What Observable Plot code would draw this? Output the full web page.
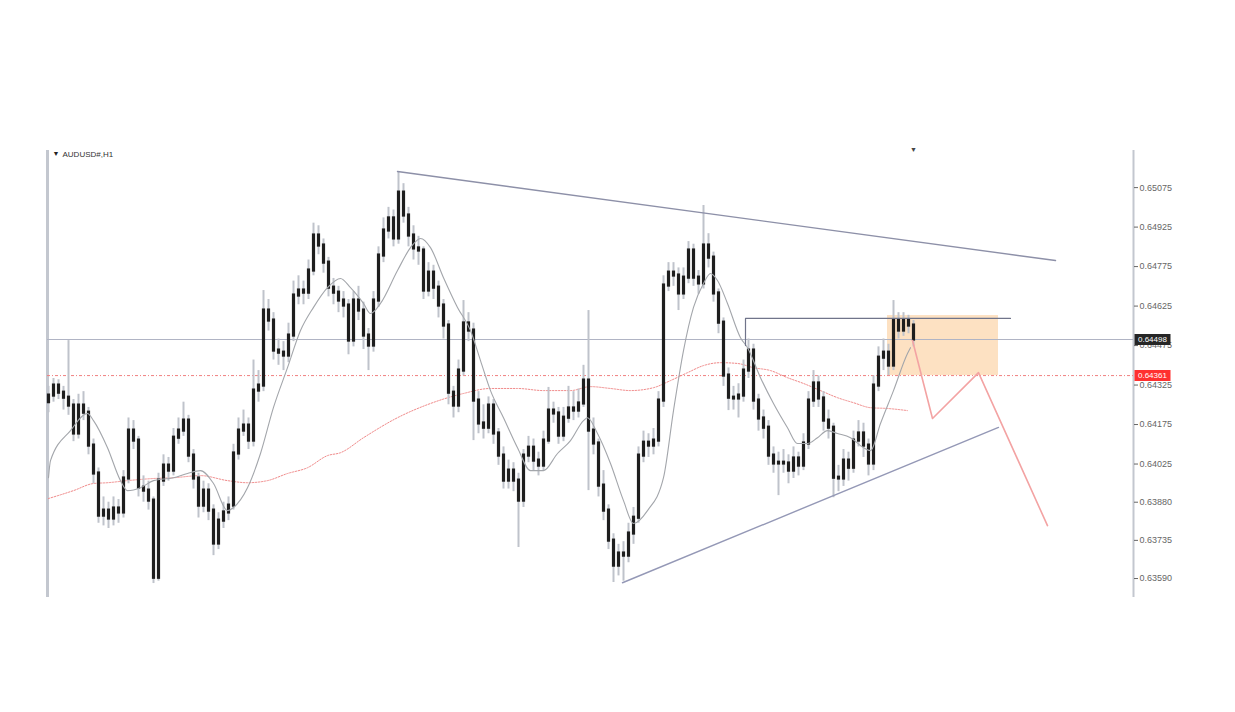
<!DOCTYPE html>
<html>
<head>
<meta charset="utf-8">
<script src="https://cdn.jsdelivr.net/npm/d3@7"></script>
<script src="https://cdn.jsdelivr.net/npm/@observablehq/plot@0.6"></script>
<style>
  html, body { margin: 0; padding: 0; background: #fff; }
  #edge { position: absolute; left: 0; top: 0; width: 1px; height: 712px; background: #333; }
  #chart { position: absolute; left: 0; top: 0; }
</style>
</head>
<body>
<div id="edge"></div>
<div id="chart"></div>
<script>
// ---- Data (prices in points: 1 point = 0.00001) ----
const symbolTitle = "AUDUSD#,H1";
const firstOpen = 64260;
const closes = [64285,64323,64296,64277,64247,64141,64247,64220,64095,63989,
63829,63848,63818,63856,63841,63970,64152,64114,63935,63924,
63886,63593,63962,64019,64000,64125,64152,64190,64057,63970,
63867,63924,63848,63723,63810,63841,63867,64065,64152,64171,
64114,64304,64323,64608,64570,64456,64448,64437,64513,64665,
64684,64676,64760,64893,64855,64790,64695,64676,64646,64627,
64494,64646,64608,64513,64475,64646,64817,64912,64958,64882,
65056,64969,64893,64844,64836,64684,64752,64695,64627,64551,
64296,64247,64380,64559,64532,64266,64179,64163,64247,64141,
64057,63962,64000,63962,63886,64057,64087,64038,64019,64114,
64228,64217,64133,64201,64236,64228,64255,64342,64152,64103,
63943,63848,63734,63639,63685,63677,63761,63821,64057,64106,
64095,64114,64266,64703,64752,64741,64673,64733,64836,64733,
64711,64855,64809,64673,64562,64361,64277,64274,64285,64380,
64456,64266,64198,64163,64057,64027,64030,64027,64000,64046,
64019,64103,64266,64331,64274,64190,64163,63973,63970,64038,
64011,64114,64141,64095,64027,64323,64429,64448,64399,64570,
64532,64570,64551,64498];
const highs = [64320,64350,64345,64320,64494,64270,64290,64300,64240,64120,
64010,63900,63880,63900,63890,64000,64200,64190,64130,63980,
63960,63900,63990,64060,64050,64160,64200,64260,64210,64080,
63990,63960,63950,63870,63840,63880,63900,64100,64200,64230,
64200,64420,64380,64684,64650,64600,64500,64490,64560,64720,
64740,64720,64800,64940,64930,64880,64810,64730,64700,64680,
64650,64680,64700,64640,64540,64680,64850,64960,65000,64990,
65136,65090,65000,64930,64890,64850,64790,64780,64720,64650,
64570,64320,64420,64646,64600,64560,64300,64250,64280,64270,
64160,64090,64040,64030,63990,64080,64130,64120,64070,64150,
64316,64260,64240,64240,64320,64300,64310,64400,64608,64200,
64120,64000,63870,63760,63720,63730,63800,63860,64090,64150,
64140,64160,64300,64740,64790,64790,64770,64770,64870,64860,
64760,65007,64900,64830,64690,64580,64390,64320,64330,64420,
64500,64480,64290,64230,64190,64090,64070,64080,64060,64090,
64070,64140,64300,64380,64360,64300,64230,64180,64020,64080,
64070,64150,64190,64180,64120,64360,64470,64500,64480,64646,
64600,64600,64590,64570];
const lows = [64220,64260,64270,64230,64210,64110,64120,64190,64060,63950,
63800,63790,63780,63790,63800,63820,63950,64080,63900,63880,
63850,63571,63580,63940,63960,63980,64100,64130,64030,63930,
63820,63840,63810,63677,63700,63780,63810,63850,64040,64130,
64080,64090,64260,64300,64530,64420,64400,64380,64410,64490,
64630,64630,64650,64740,64820,64750,64660,64630,64600,64580,
64440,64470,64570,64460,64380,64450,64620,64790,64880,64850,
64860,64940,64850,64800,64780,64650,64660,64650,64580,64500,
64250,64200,64220,64360,64490,64114,64140,64120,64140,64100,
64020,63930,63930,63920,63708,63860,64030,64000,63980,64000,
64100,64180,64100,64110,64180,64190,64200,64240,63924,64060,
63900,63810,63700,63575,63600,63580,63650,63720,63800,64030,
64050,64060,64090,64240,64680,64700,64608,64650,64710,64700,
64670,64690,64770,64640,64520,64320,64228,64230,64200,64260,
64350,64230,64150,64120,64020,63990,63905,63990,63950,63970,
63980,64000,64080,64240,64240,64150,64120,63897,63920,63940,
63960,63990,64090,64050,63980,64000,64300,64380,64361,64380,
64500,64510,64520,64470];

// fast moving average (bar index, price)
const fastMA = [[0,63973],[0.4,64038],[4.4,64152],[7.8,64217],[9,64190],[11.8,64087],[14.4,63962],[15.8,63924],
[18.4,63935],[21,63962],[25,63973],[27.8,63989],[30.4,64000],[33,63951],[35.8,63848],[37,63860],[39.8,63935],
[42.4,64065],[45,64240],[47.8,64391],[50.4,64532],[53,64620],[55.8,64695],[58.4,64730],[60.4,64695],[63,64635],
[64.4,64597],[66.4,64635],[69.8,64760],[72.4,64847],[74.4,64882],[76.4,64847],[79,64733],[81.8,64620],[84.4,64532],
[86.4,64418],[88.4,64304],[91,64201],[93.8,64087],[96.4,64000],[99,64000],[101.8,64065],[104.4,64114],[107,64190],
[107.8,64201],[109.8,64141],[112.4,64027],[115,63886],[117,63799],[119.8,63848],[123,63973],[125,64228],[127,64456],
[129,64620],[131,64711],[132.4,64749],[133.8,64722],[135.8,64635],[138.4,64505],[139.8,64467],[142.4,64353],
[145,64255],[147.8,64163],[149.8,64103],[151.8,64103],[153.8,64125],[155.8,64152],[157.8,64141],[160.4,64125],
[163,64087],[164.4,64076],[166.4,64179],[169,64304],[171.8,64445],[172.4,64467]];
// slow moving average (bar index, price)
const slowMA = [[0,63894],[5,63924],[9,63951],[11.8,63954],[15.8,63962],[21,63970],[25,63973],[30.4,63981],
[35.8,63962],[39.8,63954],[43.8,63962],[47.8,63989],[51.8,64011],[55.8,64057],[58.4,64068],[63,64125],[69.8,64201],
[76.4,64255],[83,64293],[88.4,64312],[93.8,64312],[99,64304],[104.4,64304],[108.4,64319],[112.4,64312],[116.4,64304],
[121,64315],[124.4,64342],[127.8,64372],[131,64399],[134.4,64410],[137.8,64407],[141,64391],[144.4,64380],
[147.8,64353],[151,64331],[154.4,64304],[157.8,64277],[161,64258],[164.4,64239],[167.8,64236],[171.8,64228]];

const currentPrice = 64498;
const alertLevel = 64361;
const tickLabels = [65075, 64925, 64775, 64625, 64475, 64325, 64175, 64025, 63880, 63735, 63590];
const upperTrend = [[69.8, 65136], [201.4, 64798]];
const lowerTrend = [[114.8, 63574], [190, 64164]];
const resistance = [[139.4, 64475], [139.4, 64578], [192.4, 64578]];
const zone = {i1: 167.8, i2: 190, p1: 64361, p2: 64589};
const projection = [[172.8, 64494], [176.8, 64198], [186, 64372], [199.8, 63791]];
const xDomain = [-0.2, 217];
const yDomain = [63518, 65216];

// ---- build tables ----
const P = v => v / 100000;
const candles = closes.map((c, i) => ({
  i, open: P(i === 0 ? firstOpen : closes[i - 1]), close: P(c), high: P(highs[i]), low: P(lows[i])
}));
const pts = arr => arr.map(([i, v]) => ({i, p: P(v)}));
const labelBox = [
  {p: P(currentPrice), txt: P(currentPrice).toFixed(5), bg: "#262626"},
  {p: P(alertLevel), txt: P(alertLevel).toFixed(5), bg: "#ff3030"}
];
const xR = xDomain[1];

const chart = Plot.plot({
  width: 1235, height: 712,
  marginLeft: 47, marginRight: 102, marginTop: 150, marginBottom: 115,
  x: {domain: xDomain, axis: null},
  y: {domain: yDomain.map(P), axis: null},
  style: {background: "white", fontFamily: "'Liberation Sans', Arial, sans-serif", fontSize: "9px"},
  marks: [
    Plot.rect([zone], {x1: "i1", x2: "i2", y1: d => P(d.p1), y2: d => P(d.p2), fill: "#fde1c2"}),
    Plot.ruleX([xDomain[0]], {stroke: "#c3c7cf", strokeWidth: 3}),
    Plot.ruleX([xR], {stroke: "#c3c7cf", strokeWidth: 2}),
    Plot.axisY(tickLabels.map(P), {anchor: "right", tickSize: 4, tickPadding: 2, tickFormat: d => d.toFixed(5), color: "#666", fontSize: 9}),
    Plot.ruleY([P(currentPrice)], {stroke: "#b0b4c4", strokeWidth: 1}),
    Plot.ruleY([P(alertLevel)], {stroke: "#f07f7f", strokeWidth: 1, strokeDasharray: "3,2,1,2"}),
    Plot.line(pts(slowMA), {x: "i", y: "p", stroke: "#f08a8a", strokeWidth: 1, strokeDasharray: "1.5,1.5", curve: "monotone-x"}),
    Plot.ruleX(candles, {x: "i", y1: "low", y2: "high", stroke: "#bfc3cb", strokeWidth: 2}),
    Plot.ruleX(candles, {x: "i", y1: "open", y2: "close", stroke: "#1e1e1e", strokeWidth: 3.2, strokeLinecap: "square"}),
    Plot.line(pts(fastMA), {x: "i", y: "p", stroke: "#a3a6ab", strokeWidth: 1.1, curve: "monotone-x"}),
    Plot.line(pts(upperTrend), {x: "i", y: "p", stroke: "#8d90a8", strokeWidth: 1.4}),
    Plot.line(pts(lowerTrend), {x: "i", y: "p", stroke: "#9498b6", strokeWidth: 1.4}),
    Plot.line(pts(resistance), {x: "i", y: "p", stroke: "#70748a", strokeWidth: 1.2}),
    Plot.line(pts(projection), {x: "i", y: "p", stroke: "#f3a3a3", strokeWidth: 1.6}),
    Plot.ruleY(labelBox, {y: "p", x1: xR + 0.3, x2: xR + 7.5, stroke: "bg", strokeWidth: 11}),
    Plot.text(labelBox, {y: "p", x: xR + 0.9, text: "txt", fill: "white", textAnchor: "start", fontSize: 8}),
    Plot.text([symbolTitle], {frameAnchor: "top-left", dx: 15, dy: 1, text: d => d, fill: "#333", fontSize: 8, textAnchor: "start"}),
    Plot.text(["▼"], {frameAnchor: "top-left", dx: 5, dy: 1, text: d => d, fill: "#222", fontSize: 7}),
    Plot.text([173], {x: d => d, frameAnchor: "top", dy: -3, text: () => "▼", fill: "#444", fontSize: 7})
  ]
});
document.getElementById("chart").appendChild(chart);
</script>
</body>
</html>
